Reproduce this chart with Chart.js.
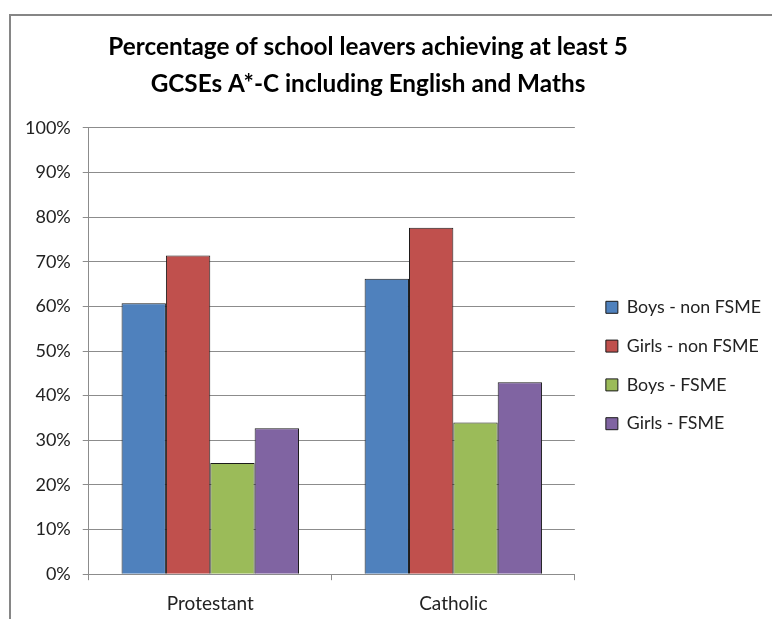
<!DOCTYPE html>
<html>
<head>
<meta charset="utf-8">
<script src="https://cdn.jsdelivr.net/npm/chart.js@4"></script>
<style>
    body { margin: 0; background: #fff; }
    #wrap { position: relative; width: 772px; height: 619px; overflow: hidden; }
    #frame { position: absolute; left: 9px; top: 14px; width: 800px; height: 700px;
        border-left: 2px solid #868686; border-top: 2px solid #868686; }
    #myChart { position: absolute; left: 0; top: 0; }
</style>
</head>
<body>
<div id="wrap">
    <div id="frame"></div>
    <canvas id="myChart" width="772" height="619"></canvas>
</div>
<script>
"use strict";

let categories = ['Protestant', 'Catholic'];
let seriesNames = ['Boys - non FSME', 'Girls - non FSME', 'Boys - FSME', 'Girls - FSME'];
let boysNonFsme = [60.7, 66.2];
let girlsNonFsme = [71.4, 77.6];
let boysFsme = [24.9, 34.0];
let girlsFsme = [32.7, 43.0];
let yTicks = [0, 10, 20, 30, 40, 50, 60, 70, 80, 90, 100];
let titleLines = ['Percentage of school leavers achieving at least 5', 'GCSEs A*-C including English and Maths'];

let seriesValues = [boysNonFsme, girlsNonFsme, boysFsme, girlsFsme];
let seriesColors = ['#4F81BD', '#C0504D', '#9BBB59', '#8064A2'];

let chartFont = 'Lato, "Noto Sans", sans-serif';
let ctx = document.getElementById('myChart').getContext('2d');

// nudge title left and legend down/right, like the excel layout
let shiftBoxes = {
    id: 'shiftBoxes',
    afterLayout(chart) {
        chart.titleBlock.left -= 19;
        chart.titleBlock.right -= 19;
        chart.legend.top += 52;
        chart.legend.bottom += 52;
        chart.legend.left += 10;
        chart.legend.right += 10;
    }
};

function buildDatasets() {
    let datasets = [];
    for (let i = 0; i < seriesNames.length; i++) {
        datasets.push({
            label: seriesNames[i],
            data: seriesValues[i],
            backgroundColor: seriesColors[i],
            borderColor: '#1a1a1a',
            borderWidth: 1,
            categoryPercentage: 0.73,
            barPercentage: 1
        });
    }
    return datasets;
}

const config = {
    type: 'bar',
    data: {
        labels: categories,
        datasets: buildDatasets()
    },
    options: {
        responsive: false,
        animation: false,
        layout: {
            padding: { left: 13, right: 11, top: 0, bottom: -8 }
        },
        plugins: {
            title: {
                display: true,
                text: titleLines,
                color: '#000',
                font: { family: chartFont, size: 24.3, weight: 'bold', lineHeight: 1.5 },
                padding: { top: 29, bottom: 26 }
            },
            legend: {
                position: 'right',
                labels: {
                    color: '#222',
                    font: { family: chartFont, size: 17.8 },
                    boxWidth: 12,
                    boxHeight: 12,
                    padding: 21
                }
            },
            tooltip: { enabled: false }
        },
        scales: {
            x: {
                grid: {
                    drawOnChartArea: false,
                    drawTicks: true,
                    tickLength: 6,
                    color: '#8c8c8c'
                },
                border: { color: '#8c8c8c' },
                ticks: {
                    color: '#222',
                    padding: 12,
                    font: { family: chartFont, size: 19 }
                }
            },
            y: {
                min: 0,
                max: 100,
                afterBuildTicks(axis) {
                    axis.ticks = yTicks.map(v => ({ value: v }));
                },
                grid: {
                    color: '#8c8c8c',
                    tickLength: 6
                },
                border: { color: '#8c8c8c' },
                ticks: {
                    color: '#222',
                    padding: 12,
                    font: { family: chartFont, size: 18 },
                    callback: v => v + '%'
                }
            }
        }
    },
    plugins: [shiftBoxes]
};

const myChart = new Chart(ctx, config);
</script>
</body>
</html>
